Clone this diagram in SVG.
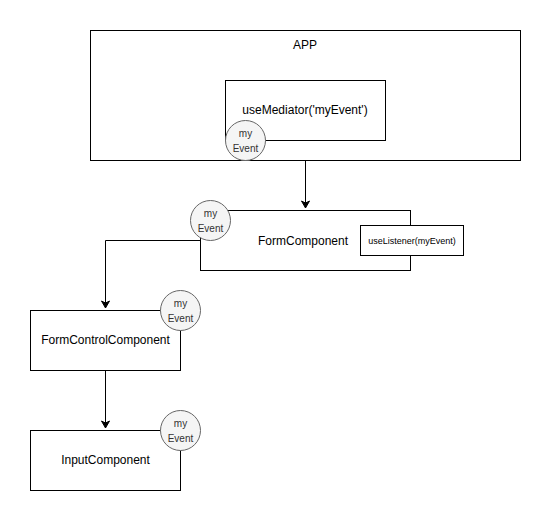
<svg xmlns="http://www.w3.org/2000/svg" width="551" height="521" viewBox="0 0 551 521">
<defs>
<marker id="arr" markerWidth="10" markerHeight="10" refX="8" refY="5" orient="auto" markerUnits="userSpaceOnUse">
<path d="M1,1 L8,5 L1,9 L3,5 Z" fill="#000" stroke="#000" stroke-width="1"/>
</marker>
<style>
.box{fill:#fff;stroke:#000;stroke-width:1}
.ev{fill:#f5f5f5;stroke:#666;stroke-width:1}
.t{font-family:"Liberation Sans",Arial,sans-serif;font-size:12px;fill:#000;text-anchor:middle}
.s{font-family:"Liberation Sans",Arial,sans-serif;font-size:10px;fill:#333;text-anchor:middle}
.c{fill:none;stroke:#000;stroke-width:1}
</style>
</defs>
<rect width="551" height="521" fill="#fff"/>
<g id="app">
<rect class="box" x="90.5" y="30.5" width="430" height="130"/>
<text class="t" x="305" y="49">APP</text>
</g>
<g id="mediator">
<rect class="box" x="225.5" y="80.5" width="160" height="60"/>
<text class="t" x="305" y="114">useMediator('myEvent')</text>
</g>
<g id="ev1">
<circle class="ev" cx="245.5" cy="140.5" r="20"/>
<text class="s" x="245.5" y="137">my</text>
<text class="s" x="245.5" y="152">Event</text>
</g>
<g id="connectors">
<path class="c" d="M305.5,160.5 V208" marker-end="url(#arr)"/>
<path class="c" d="M200.5,240.5 H105.5 V308" marker-end="url(#arr)"/>
<path class="c" d="M105.5,370.5 V428" marker-end="url(#arr)"/>
</g>
<g id="form">
<rect class="box" x="200.5" y="210.5" width="210" height="60"/>
<text class="t" x="303" y="245">FormComponent</text>
</g>
<g id="listener">
<rect class="box" x="360.5" y="225.5" width="103" height="30"/>
<text class="t" x="412" y="244" style="font-size:9px">useListener(myEvent)</text>
</g>
<g id="ev2">
<circle class="ev" cx="210.5" cy="220.5" r="20"/>
<text class="s" x="210.5" y="217">my</text>
<text class="s" x="210.5" y="232">Event</text>
</g>
<g id="formcontrol">
<rect class="box" x="30.5" y="310.5" width="150" height="60"/>
<text class="t" x="105.5" y="344">FormControlComponent</text>
</g>
<g id="ev3">
<circle class="ev" cx="180.5" cy="310.5" r="20"/>
<text class="s" x="180.5" y="307">my</text>
<text class="s" x="180.5" y="322">Event</text>
</g>
<g id="input">
<rect class="box" x="30.5" y="430.5" width="150" height="60"/>
<text class="t" x="105.5" y="464">InputComponent</text>
</g>
<g id="ev4">
<circle class="ev" cx="180.5" cy="430.5" r="20"/>
<text class="s" x="180.5" y="427">my</text>
<text class="s" x="180.5" y="442">Event</text>
</g>
</svg>
